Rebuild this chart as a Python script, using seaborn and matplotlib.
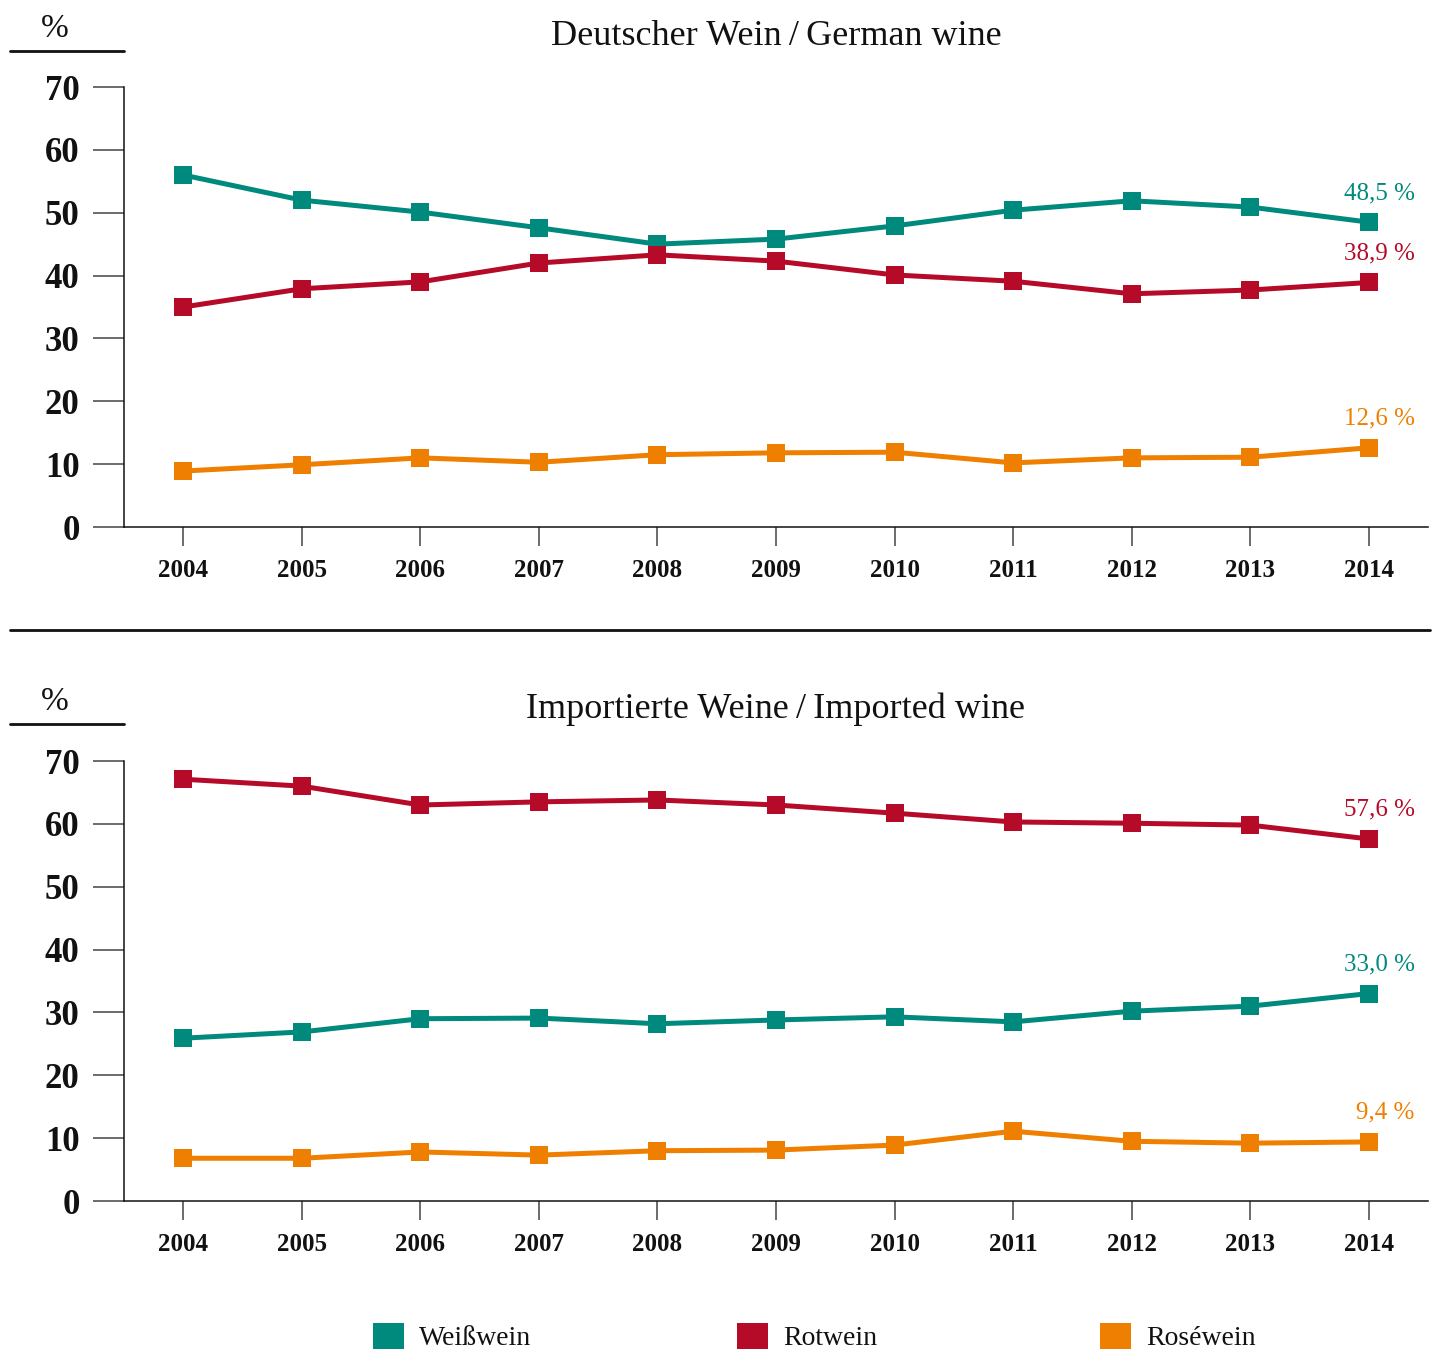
import matplotlib
matplotlib.use('Agg')
import matplotlib.pyplot as plt
import seaborn as sns
import pandas as pd
from matplotlib.patches import Patch
from matplotlib.lines import Line2D

# ---------------- data ----------------
years = list(range(2004, 2015))
wine_types = ['Weißwein', 'Rotwein', 'Roséwein']
colors = ['#008A7D', '#B50A28', '#EF7F00']

german_white = [56.0, 52.0, 50.1, 47.6, 45.0, 45.8, 47.9, 50.4, 51.9, 50.9, 48.5]
german_red = [35.0, 37.9, 39.0, 42.0, 43.3, 42.3, 40.1, 39.1, 37.1, 37.7, 38.9]
german_rose = [8.9, 9.9, 11.0, 10.3, 11.5, 11.8, 11.9, 10.2, 11.0, 11.1, 12.6]

imported_white = [25.9, 26.9, 29.0, 29.1, 28.2, 28.8, 29.3, 28.5, 30.2, 31.0, 33.0]
imported_red = [67.1, 66.0, 63.0, 63.5, 63.8, 63.0, 61.7, 60.3, 60.1, 59.8, 57.6]
imported_rose = [6.8, 6.8, 7.8, 7.3, 8.0, 8.1, 8.9, 11.1, 9.5, 9.2, 9.4]

panel_titles = ['Deutscher Wein\u2009/\u2009German wine',
                'Importierte Weine\u2009/\u2009Imported wine']
y_ticks = [0, 10, 20, 30, 40, 50, 60, 70]
unit_label = '%'

panels = [
    [german_white, german_red, german_rose],
    [imported_white, imported_red, imported_rose],
]

# ---------------- style ----------------
sns.set_theme(style='white')
plt.rcParams['font.family'] = ['Liberation Serif', 'DejaVu Serif']
plt.rcParams['text.color'] = '#111111'

W, H = 1435, 1352
fig = plt.figure(figsize=(W / 100, H / 100), dpi=100)

palette = dict(zip(wine_types, colors))

# axes pixel geometry: (top_px, bottom_px)
axes_px = [(87, 527), (761, 1201)]
title_baseline_px = [45, 718]
pct_baseline_px = [37, 710]
pct_line_px = [51, 724]

for i, (series, (top, bot)) in enumerate(zip(panels, axes_px)):
    ax = fig.add_axes([124 / W, 1 - bot / H, 1304 / W, (bot - top) / H])
    rows = []
    for name, vals in zip(wine_types, series):
        for yr, v in zip(years, vals):
            rows.append({'Jahr': yr, 'Anteil': v, 'Sorte': name})
    df = pd.DataFrame(rows)
    sns.lineplot(data=df, x='Jahr', y='Anteil', hue='Sorte', hue_order=wine_types,
                 palette=palette, marker='s', markersize=13, markeredgewidth=0,
                 linewidth=3.6, legend=False, ax=ax, clip_on=False)

    ax.set_xlim(2003.5, 2014.5)
    ax.set_ylim(0, 70)
    ax.set_xticks(years)
    ax.set_xticklabels([str(y) for y in years], fontsize=18, fontweight='bold')
    ax.set_yticks(y_ticks)
    ax.set_yticklabels([str(t) for t in y_ticks], fontsize=25, fontweight='bold')
    ax.set_xlabel('')
    ax.set_ylabel('')
    for s in ['top', 'right']:
        ax.spines[s].set_visible(False)
    for s in ['left', 'bottom']:
        ax.spines[s].set_color('#111111')
        ax.spines[s].set_linewidth(1.1)
    ax.tick_params(axis='y', which='major', left=True, direction='out', length=22,
                   width=1.1, color='#444444', pad=10, labelcolor='#111111')
    ax.tick_params(axis='x', which='major', bottom=True, direction='out', length=14,
                   width=1.1, color='#444444', pad=9, labelcolor='#111111')
    ax.grid(False)

    # end-value labels
    for vals, c in zip(series, colors):
        v = vals[-1]
        txt = f"{v:.1f}".replace('.', ',') + ' %'
        ax.annotate(txt, xy=(years[-1], v), xytext=(33, 21), textcoords='offset points',
                    ha='right', va='center', fontsize=18, color=c)

    # panel title
    fig.text(776 / W, 1 - title_baseline_px[i] / H, panel_titles[i], ha='center',
             va='baseline', fontsize=26, color='#111111')
    # unit label and its underline
    fig.text(55 / W, 1 - pct_baseline_px[i] / H, unit_label, ha='center',
             va='baseline', fontsize=24, color='#111111')
    fig.add_artist(Line2D([10 / W, 124 / W], [1 - pct_line_px[i] / H] * 2,
                          transform=fig.transFigure, color='#111111', linewidth=2))

# separator line between panels
fig.add_artist(Line2D([10 / W, 1430 / W], [1 - 630 / H] * 2,
                      transform=fig.transFigure, color='#111111', linewidth=2))

# legend
legend_x_px = [373, 737, 1100]
for name, c, xpx in zip(wine_types, colors, legend_x_px):
    fig.legend(handles=[Patch(facecolor=c, edgecolor='none')], labels=[name],
               loc='center left', bbox_to_anchor=(xpx / W, 1 - 1337 / H),
               frameon=False, fontsize=20, handlelength=1.1, handleheight=1.1,
               handletextpad=0.55, borderpad=0, borderaxespad=0,
               labelcolor='#111111')

fig.savefig('out.png', dpi=100)
